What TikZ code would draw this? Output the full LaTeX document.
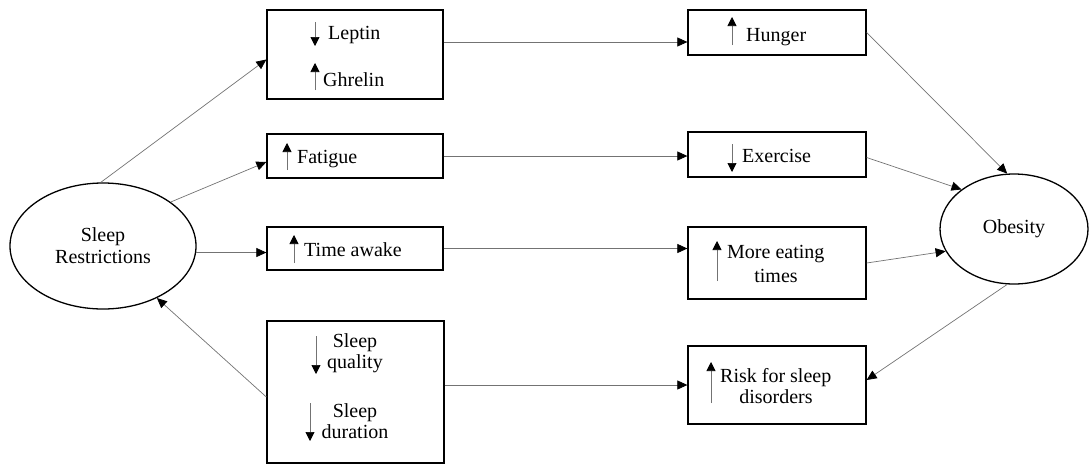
\documentclass[tikz,border=0pt]{standalone}
\usepackage{fontspec}
\setmainfont{Liberation Serif}
\usetikzlibrary{shapes,shapes.geometric,arrows.meta,calc}

\begin{document}
\begin{tikzpicture}
	[x=1pt,y=-1pt,
	box/.style={draw,line width=1.3pt,rectangle,inner sep=0pt},
	oval/.style={draw,line width=1.3pt,ellipse,inner sep=0pt,align=center,
		font=\fontsize{20}{22}\selectfont},
	lbl/.style={inner sep=0pt,font=\fontsize{20}{22}\selectfont},
	link/.style={draw=black!55,line width=0.7pt,
		-{Triangle[length=10pt,width=9pt,color=black]}},
	hint/.style={draw=black!55,line width=0.7pt,
		-{Triangle[length=9pt,width=9pt,color=black]}}]
	\useasboundingbox (0,0) rectangle (1091,464);
	
	% ovals
	\node[oval,minimum width=186pt,minimum height=126pt] (sr) at (103,246) {Sleep\\Restrictions};
	\node[oval,minimum width=148pt,minimum height=110pt] (ob) at (1014,229) {Obesity};
	
	% left column
	\node[box,minimum width=176pt,minimum height=89pt] (lep) at (355,54.5) {};
	\node[box,minimum width=176pt,minimum height=44pt] (fat) at (355,156) {};
	\node[box,minimum width=176pt,minimum height=43pt] (awake) at (355,248.5) {};
	\node[box,minimum width=177pt,minimum height=142pt] (slp) at (355.5,392) {};
	
	% right column
	\node[box,minimum width=178pt,minimum height=45pt] (hunger) at (777,32.5) {};
	\node[box,minimum width=178pt,minimum height=45pt] (exer) at (777,154.5) {};
	\node[box,minimum width=178pt,minimum height=72pt] (eat) at (777,263) {};
	\node[box,minimum width=178pt,minimum height=78pt] (risk) at (777,385) {};
	
	% texts in the boxes
	\node[lbl,anchor=base west] (tlep) at (328,39) {Leptin};
	\node[lbl,anchor=base west] (tghr) at (323,86) {Ghrelin};
	\node[lbl,anchor=base west] (tfat) at (297,163) {Fatigue};
	\node[lbl,anchor=base west] (tawk) at (304,256) {Time awake};
	\node[lbl,anchor=base] (tsq1) at (355,347) {Sleep};
	\node[lbl,anchor=base] (tsq2) at (355,368) {quality};
	\node[lbl,anchor=base] (tsd1) at (355,417) {Sleep};
	\node[lbl,anchor=base] (tsd2) at (355,438) {duration};
	\node[lbl,anchor=base west] (thun) at (746,41) {Hunger};
	\node[lbl,anchor=base west] (texe) at (742,162) {Exercise};
	\node[lbl,anchor=base west] (teat1) at (727,258) {More eating};
	\node[lbl,anchor=base] (teat2) at (776,282) {times};
	\node[lbl,anchor=base west] (trsk1) at (720,382) {Risk for sleep};
	\node[lbl,anchor=base] (trsk2) at (776,403) {disorders};
	
	% up and down marks
	\foreach \x/\from/\to in {315/22/46, 315/90/63, 287/170/143, 294/263/235,
		316/336/374, 310/403/441, 732/45/17, 732/144/172, 717/281/241, 711/403/362}
	{
		\draw[hint] (\x,\from) -- (\x,\to);
	}
	
	% links
	\draw[link] (sr.92) -- ([yshift=-5pt]lep.west);
	\draw[link] (sr.33) -- ([yshift=-6pt]fat.west);
	\draw[link] (sr.-4) -- (sr.-4 -| awake.west);
	\draw[link] ([yshift=-5pt]slp.west) -- (sr.-44);
	
	\draw[link] ([yshift=12.5pt]lep.east) -- ([yshift=12.5pt]lep.east -| hunger.west);
	\draw[link] (fat.east) -- (fat.east -| exer.west);
	\draw[link] (awake.east) -- (awake.east -| eat.west);
	\draw[link] (risk.west -| slp.east) -- (risk.west);
	
	\draw[link] (hunger.east) -- (ob.97);
	\draw[link] ([yshift=-3pt]exer.east) -- (ob.143);
	\draw[link] (eat.east) -- (ob.198);
	\draw[link] (ob.263) -- ([yshift=5pt]risk.east);
\end{tikzpicture}
\end{document}
